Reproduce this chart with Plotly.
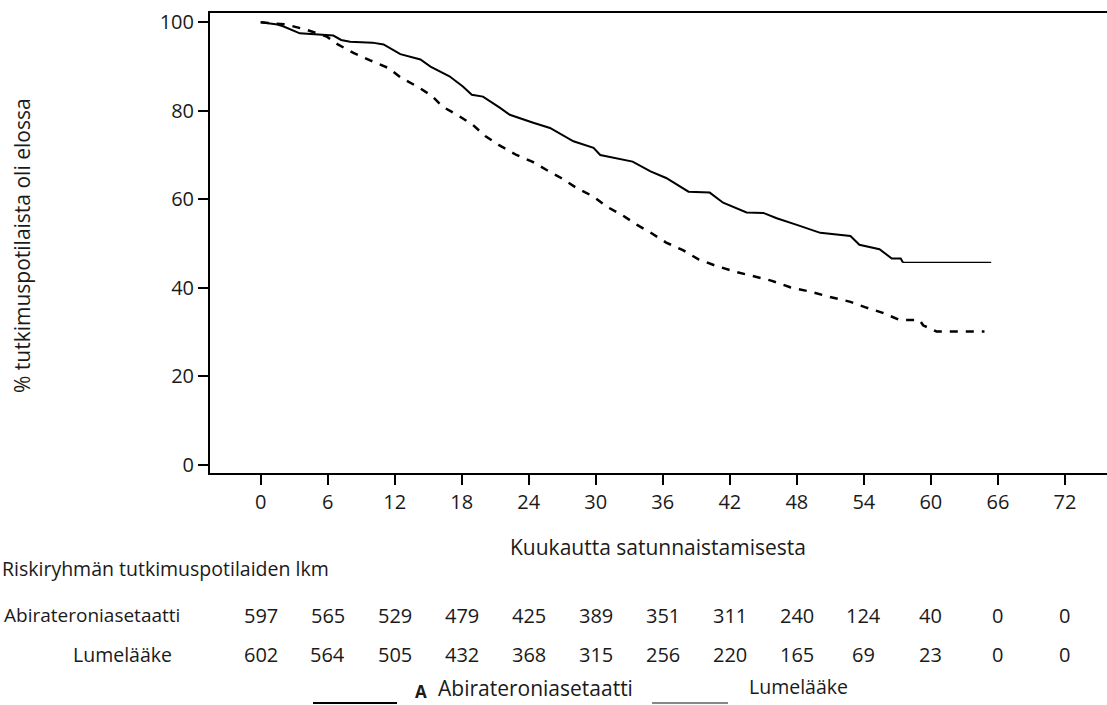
import plotly.graph_objects as go

# ---- data ----
abi_months = [0, 1.5, 2, 3.5, 6.5, 7.2, 8, 10, 11, 12.5, 14.3, 15.2, 16.9, 18.1, 18.9, 19.9,
              21.4, 22.3, 24.4, 25.9, 28, 29.8, 30.4, 33.3, 34.9, 36.3, 38.3, 40.2, 41.4,
              43.5, 45, 46.2, 48, 50.1, 52.8, 53.6, 55.4, 56.5, 57.3, 57.5, 65.4]
abi_surv = [100, 99.5, 99.1, 97.5, 97.0, 96.0, 95.6, 95.4, 95.0, 92.8, 91.6, 90.0, 87.8, 85.5,
            83.6, 83.2, 80.7, 79.1, 77.3, 76.1, 73.1, 71.6, 70.0, 68.5, 66.3, 64.8, 61.7, 61.5,
            59.2, 57.0, 56.9, 55.7, 54.2, 52.4, 51.7, 49.7, 48.7, 46.6, 46.6, 45.7, 45.7]

plac_months = [0, 2.3, 4.1, 5.9, 6.9, 8.3, 9.8, 11.4, 12.6, 14, 15.3, 16.3, 17.7, 19, 20.1,
               21.3, 22.9, 24.3, 25.6, 26.9, 28.3, 29.8, 31, 32.3, 33.7, 35, 36.3, 37.8, 39.2,
               40.8, 42.5, 44.1, 45.7, 47.4, 49.2, 50.8, 52.8, 54.1, 55.7, 57.2, 59, 59.3,
               60.5, 64.8]
plac_surv = [100, 99.5, 98.3, 96.8, 95.0, 93.1, 91.4, 89.7, 87.4, 85.5, 83.4, 80.9, 78.9, 76.8,
             74.3, 72.3, 70.0, 68.5, 66.6, 64.8, 62.5, 60.6, 58.3, 56.5, 54.2, 52.3, 50.2, 48.5,
             46.4, 44.9, 43.6, 42.6, 41.6, 40.1, 39.1, 38.0, 36.8, 35.6, 34.3, 32.7, 32.7, 31.5,
             30.1, 30.1]

tick_months = [0, 6, 12, 18, 24, 30, 36, 42, 48, 54, 60, 66, 72]
y_ticks = [0, 20, 40, 60, 80, 100]
abi_risk = [597, 565, 529, 479, 425, 389, 351, 311, 240, 124, 40, 0, 0]
plac_risk = [602, 564, 505, 432, 368, 315, 256, 220, 165, 69, 23, 0, 0]

abi_name = "Abirateroniasetaatti"
plac_name = "Lumelääke"
y_title = "% tutkimuspotilaista oli elossa"
x_title = "Kuukautta satunnaistamisesta"
risk_title = "Riskiryhmän tutkimuspotilaiden lkm"

W, H = 1107, 705
L, R, T, B = 210, 0, 13, 232
FONT = "Open Sans"
TXT = "#1a1a1a"


def px(xp):
    return (xp - L) / (W - L - R)


def py(yp):
    return (H - B - yp) / (H - T - B)


def note(text, x, y, size, xanchor="center", yanchor="middle", xref="paper", angle=0):
    return dict(text=text, xref=xref, yref="paper", x=x, y=y, xanchor=xanchor,
                yanchor=yanchor, textangle=angle, showarrow=False,
                font=dict(size=size, color=TXT, family=FONT))


fig = go.Figure()
fig.add_trace(go.Scatter(x=abi_months[:-1], y=abi_surv[:-1], mode="lines",
                         line=dict(color="black", width=2), showlegend=False))
fig.add_trace(go.Scatter(x=abi_months[-2:], y=abi_surv[-2:], mode="lines",
                         line=dict(color="black", width=1.2), showlegend=False))
fig.add_trace(go.Scatter(x=plac_months, y=plac_surv, mode="lines",
                         line=dict(color="black", width=2.5, dash="8px,8px"), showlegend=False))

ann = [
    note(x_title, px(658), py(547), 21),
    note(y_title, px(22), py(246), 21, angle=-90),
    note(risk_title, px(0), py(568), 19.5, xanchor="left"),
    note(abi_name, px(182), py(615), 19, xanchor="right"),
    note(plac_name, px(174), py(654), 19.5, xanchor="right"),
]
for m, a, p in zip(tick_months, abi_risk, plac_risk):
    ann.append(note(str(a), m, py(615), 20, xref="x"))
    ann.append(note(str(p), m, py(654), 20, xref="x"))

# legend at the bottom
ann.append(note("<b>A</b>", px(413), py(705), 17, xanchor="left", yanchor="bottom"))
ann.append(note(abi_name, px(436), py(688), 21, xanchor="left"))
ann.append(note(plac_name, px(747), py(686), 19.5, xanchor="left"))

shapes = [
    dict(type="line", xref="paper", yref="paper", x0=px(313), x1=px(397), y0=py(703), y1=py(703),
         line=dict(color="black", width=2)),
    dict(type="line", xref="paper", yref="paper", x0=px(652), x1=px(728), y0=py(703), y1=py(703),
         line=dict(color="#888888", width=2)),
]

fig.update_layout(
    width=W, height=H, autosize=False,
    margin=dict(l=L, r=R, t=T, b=B),
    paper_bgcolor="white", plot_bgcolor="white",
    annotations=ann, shapes=shapes,
    xaxis=dict(range=[-4.54, 75.77], tickmode="array", tickvals=tick_months,
               ticktext=[str(t) for t in tick_months],
               showgrid=False, zeroline=False, showline=True, linecolor="black", linewidth=2,
               mirror=True, ticks="outside", ticklen=10, tickwidth=2, tickcolor="black",
               tickfont=dict(size=20, color=TXT, family=FONT)),
    yaxis=dict(range=[-1.9, 102.1], tickmode="array", tickvals=y_ticks,
               showgrid=False, zeroline=False, showline=True, linecolor="black", linewidth=2,
               ticks="outside", ticklen=10, tickwidth=2, tickcolor="black",
               tickfont=dict(size=20, color=TXT, family=FONT)),
)

fig.write_html("out.html", config={"displayModeBar": False},
               post_script="document.body.style.margin='0';document.body.style.overflow='hidden';")
